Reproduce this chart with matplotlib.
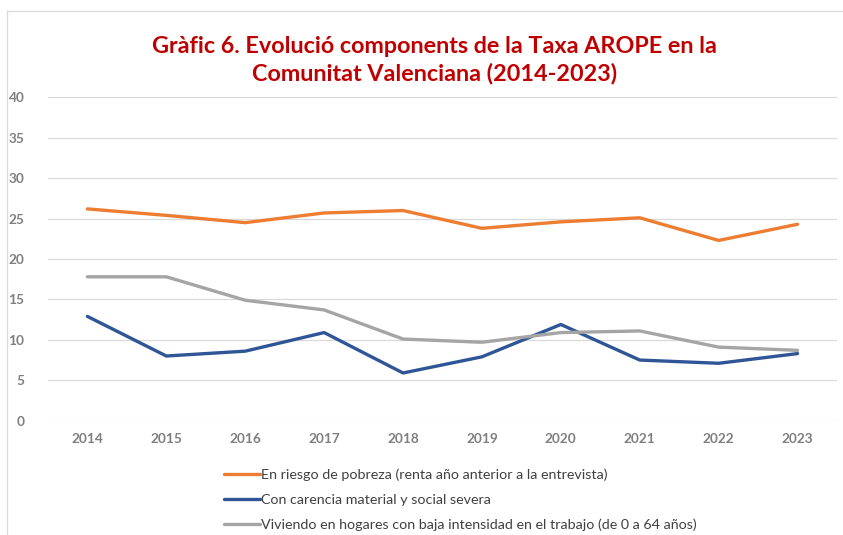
import matplotlib.pyplot as plt
from matplotlib.lines import Line2D

anys = ["2014", "2015", "2016", "2017", "2018", "2019", "2020", "2021", "2022", "2023"]
pobresa = [26.2, 25.4, 24.5, 25.7, 26.0, 23.8, 24.6, 25.1, 22.3, 24.3]
carencia = [12.9, 8.0, 8.6, 10.9, 5.9, 7.9, 11.9, 7.5, 7.1, 8.3]
baixa_int = [17.8, 17.8, 14.9, 13.7, 10.1, 9.7, 10.9, 11.1, 9.1, 8.7]
yticks = [0, 5, 10, 15, 20, 25, 30, 35, 40]

etiquetes = ["En riesgo de pobreza (renta año anterior a la entrevista)",
             "Con carencia material y social severa",
             "Viviendo en hogares con baja intensidad en el trabajo (de 0 a 64 años)"]
colors = ["#ED7D31", "#2F5597", "#A5A5A5"]

plt.rcParams['font.family'] = ['Lato', 'DejaVu Sans']

fig = plt.figure(figsize=(8.43, 5.35), dpi=100)
ax = fig.add_axes([0.0569, 0.2137, 0.936, 0.6043])

x = list(range(len(anys)))
for serie, c, lab in zip([pobresa, carencia, baixa_int], colors, etiquetes):
    ax.plot(x, serie, color=c, lw=2.4, label=lab, solid_capstyle='round')

ax.set_xlim(-0.5, len(anys) - 0.5)
ax.set_ylim(0, 40)
ax.set_yticks(yticks)
ax.set_yticklabels([str(v) for v in yticks], fontweight='bold')
ax.set_xticks(x)
ax.set_xticklabels(anys, fontweight='bold')
ax.grid(axis='y', color='#D9D9D9', lw=0.9)
ax.set_axisbelow(True)
for s in ax.spines.values():
    s.set_visible(False)
ax.tick_params(length=0, labelsize=9.8, labelcolor='#7F7F7F')
ax.tick_params(axis='x', pad=9)
ax.tick_params(axis='y', pad=17)

fig.text(0.515, 0.887, "Gràfic 6. Evolució components de la Taxa AROPE en la\nComunitat Valenciana (2014-2023)",
         ha='center', va='center', color='#C00000', fontsize=16.8, fontweight='bold', linespacing=1.3)

# marc del gràfic
fig.add_artist(Line2D([7/843, 7/843], [0, 1 - 11/535], transform=fig.transFigure, color='#D9D9D9', lw=0.9))
fig.add_artist(Line2D([7/843, 1], [1 - 11/535, 1 - 11/535], transform=fig.transFigure, color='#D9D9D9', lw=0.9))

fig.legend(loc='upper left', bbox_to_anchor=(224/843, 1 - 468/535), frameon=False,
           fontsize=10.3, handlelength=2.5, handletextpad=0.1, labelspacing=0.92,
           labelcolor='#404040', borderaxespad=0, borderpad=0)

plt.savefig('out.png', dpi=100)
